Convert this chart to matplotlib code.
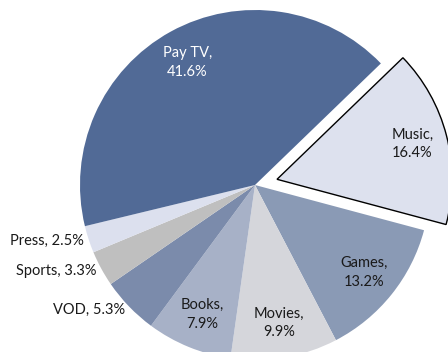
import numpy as np
import matplotlib.pyplot as plt

# revenue share by segment, clockwise from Music
segments = ["Music", "Games", "Movies", "Books", "VOD", "Sports", "Press", "Pay TV"]
shares = [16.4, 13.2, 9.9, 7.9, 5.3, 3.3, 2.5, 41.6]
colors = ["#dde1ee", "#8a9ab5", "#d5d6db", "#a7b1c7", "#7b8bab", "#bfbfbf", "#dce0ee", "#516a96"]

plt.rcParams['font.family'] = ['Lato', 'DejaVu Sans']

fig = plt.figure(figsize=(4.48, 3.52), dpi=100)
ax = fig.add_axes([0, 0, 1, 1])

explode = [0.13 if s == "Music" else 0 for s in segments]
wedges, _ = ax.pie(shares, colors=colors, explode=explode, startangle=44,
                   counterclock=False, radius=1.0,
                   wedgeprops=dict(linewidth=0))
wedges[0].set_edgecolor("black")
wedges[0].set_linewidth(1.0)

# label placement: inside for big slices, outside (right-aligned) for small ones
outside = {"VOD", "Sports", "Press"}
for w, name, val, ex in zip(wedges, segments, shares, explode):
    mid = np.deg2rad((w.theta1 + w.theta2) / 2)
    txt = f"{name},\n{val}%"
    color = "white" if name == "Pay TV" else "#1a1a1a"
    if name in outside:
        d = 1.03
        ax.text(d * np.cos(mid), d * np.sin(mid), f"{name}, {val}%",
                ha="right", va="center", fontsize=10.5, color=color)
    else:
        d = 0.8 + ex
        if name == "Music":
            d = 0.93
        ax.text(d * np.cos(mid), d * np.sin(mid), txt, ha="center", va="center",
                fontsize=10.5, color=color, linespacing=1.4)

ax.set_xlim(-255 / 175, 193 / 175)
ax.set_ylim(-167 / 175, 185 / 175)
ax.set_aspect("auto")
ax.axis("off")

fig.savefig("out.png", dpi=100)
